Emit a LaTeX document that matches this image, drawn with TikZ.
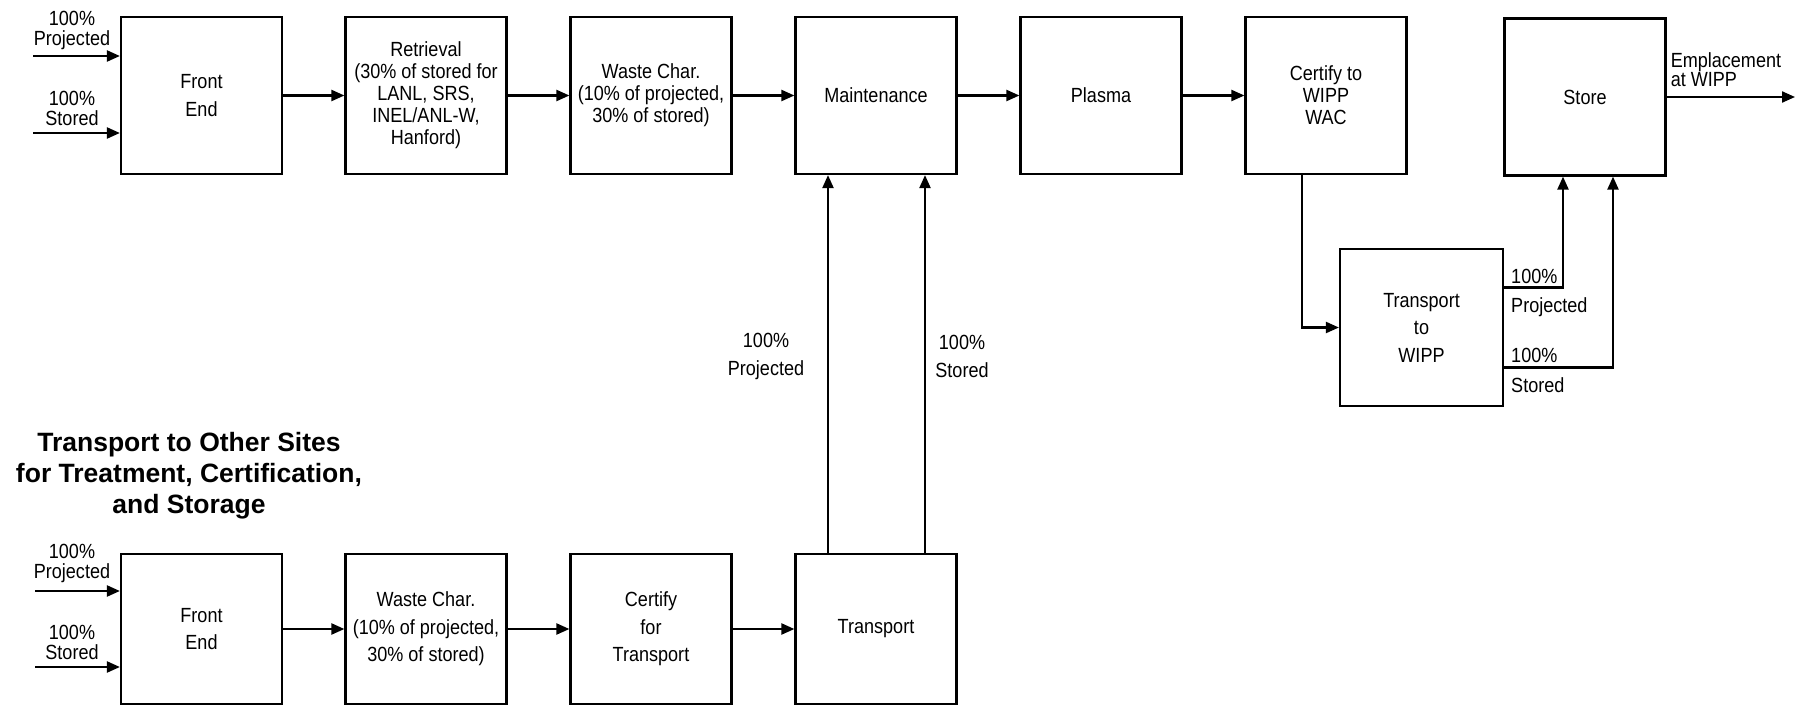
\documentclass[tikz,border=0pt]{standalone}
\usepackage{fontspec}
\setmainfont{Liberation Sans}[FakeStretch=0.88]
\newfontfamily\headfont{Liberation Sans}
\usetikzlibrary{arrows.meta}

\tikzset{
  box/.style={draw, line width=2.2pt, minimum width=161pt, minimum height=157pt,
    inner sep=0pt, align=center, font=\fontsize{20.5}{22}\selectfont},
  loose/.style={font=\fontsize{20.5}{27.5}\selectfont},
  lowbox/.style={box, minimum height=150pt},
  lbl/.style={align=center, inner sep=0pt, font=\fontsize{20.5}{20}\selectfont},
  midlbl/.style={lbl, font=\fontsize{20.5}{28}\selectfont},
  head/.style={align=center, inner sep=0pt, font=\headfont\bfseries\fontsize{26.5}{31}\selectfont},
  flow/.style={line width=2.2pt, ->},
}

\begin{document}
\begin{tikzpicture}[x=1pt, y=-1pt, >={Triangle[length=13pt,width=11pt]}]
\useasboundingbox (0,0) rectangle (1798,706);

% Upper line: treatment at the site
\node[box, loose] (fe) at (201.5,95.5) {Front\\End};
\node[box] (retr) at (426,95.5) {Retrieval\\(30\% of stored for\\LANL, SRS,\\INEL/ANL-W,\\Hanford)};
\node[box] (char) at (651,95.5) {Waste Char.\\(10\% of projected,\\30\% of stored)};
\node[box] (maint) at (876,95.5) {Maintenance};
\node[box] (plasma) at (1101,95.5) {Plasma};
\node[box] (cert) at (1326,95.5) {Certify to\\WIPP\\WAC};
\node[box] (store) at (1585,97) {Store};
\node[box, loose, minimum width=163pt] (twipp) at (1421.5,327.5) {Transport\\to\\WIPP};

% inputs
\coordinate (inp) at (33,56);
\coordinate (ins) at (33,133);
\node[lbl] (inplbl) at (72,30) {100\%\\Projected};
\node[lbl] (inslbl) at (72,108) {100\%\\Stored};
\draw[flow] (inp) -- (inp -| fe.west);
\draw[flow] (ins) -- (ins -| fe.west);

\draw[flow] (fe) -- (retr);
\draw[flow] (retr) -- (char);
\draw[flow] (char) -- (maint);
\draw[flow] (maint) -- (plasma);
\draw[flow] (plasma) -- (cert);

% out to WIPP
\coordinate (empl) at (1795,97);
\draw[flow] (store.east) -- (empl);
\node[lbl, anchor=south west, align=left, font=\fontsize{20.5}{18}\selectfont] (empllbl)
  at ([xshift=4pt,yshift=10pt]store.east) {Emplacement\\at WIPP};

\draw[flow] ([xshift=-24pt]cert.south) |- (twipp.west);
\draw[flow] ([yshift=40pt]twipp.east) -| ([xshift=-22pt]store.south);
\draw[flow] ([yshift=-40pt]twipp.east) -| ([xshift=28pt]store.south);
\node[lbl, anchor=west] (tpa) at (1511,276) {100\%};
\node[lbl, anchor=west] (tpb) at (1511,307) {Projected};
\node[lbl, anchor=west] (tsa) at (1511,355) {100\%};
\node[lbl, anchor=west] (tsb) at (1511,385) {Stored};

% Lower line: other sites
\node[head] (title) at (189,476) {Transport to Other Sites\\for Treatment, Certification,\\and Storage};

\node[lowbox, loose] (fe2) at (201.5,629) {Front\\End};
\node[lowbox, loose] (char2) at (426,629) {Waste Char.\\(10\% of projected,\\30\% of stored)};
\node[lowbox, loose] (certt) at (651,629) {Certify\\for\\Transport};
\node[lowbox] (trans) at (876,629) {Transport};

\coordinate (inp2) at (35,591);
\coordinate (ins2) at (35,667);
\node[lbl] (inplbl2) at (72,563.5) {100\%\\Projected};
\node[lbl] (inslbl2) at (72,642) {100\%\\Stored};
\draw[flow] (inp2) -- (inp2 -| fe2.west);
\draw[flow] (ins2) -- (ins2 -| fe2.west);

\draw[flow] (fe2) -- (char2);
\draw[flow] (char2) -- (certt);
\draw[flow] (certt) -- (trans);

% back up to maintenance
\draw[flow] ([xshift=-48pt]trans.north) -- ([xshift=-48pt]maint.south);
\draw[flow] ([xshift=49pt]trans.north) -- ([xshift=49pt]maint.south);
\node[midlbl] (uplbl) at (766,356) {100\%\\Projected};
\node[midlbl] (uslbl) at (962,356) {100\%\\Stored};
\end{tikzpicture}
\end{document}
